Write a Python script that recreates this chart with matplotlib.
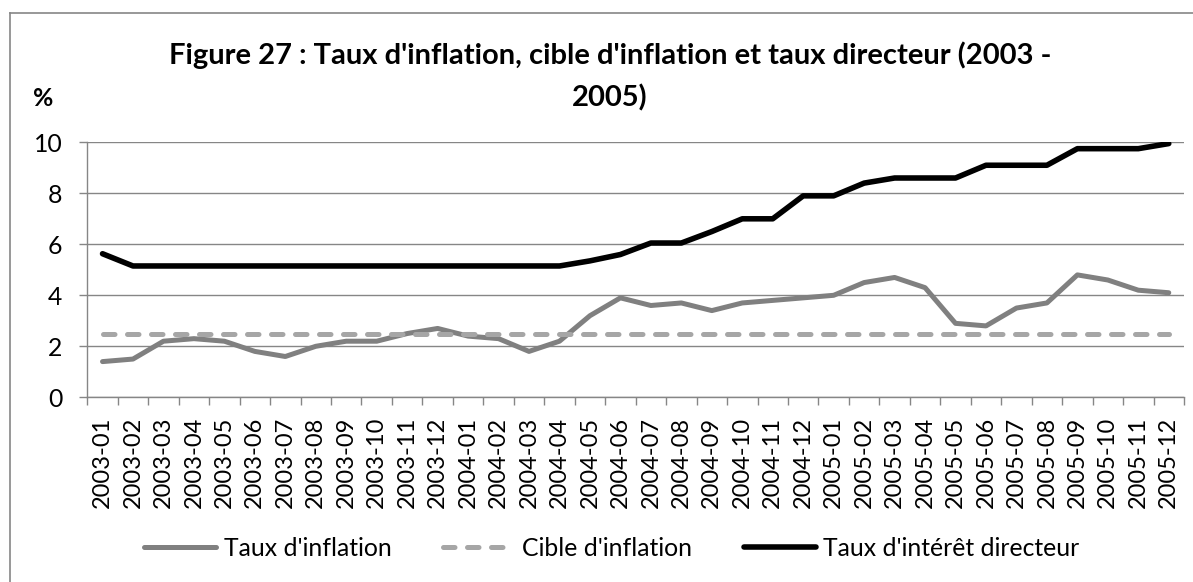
import matplotlib
matplotlib.use("Agg")
import matplotlib.pyplot as plt
from matplotlib.lines import Line2D
import numpy as np

plt.rcParams['font.family'] = ['Lato', 'DejaVu Sans']

months = [f"{y}-{m:02d}" for y in (2003, 2004, 2005) for m in range(1, 13)]

inflation = [1.4, 1.5, 2.2, 2.3, 2.2, 1.8, 1.6, 2.0, 2.2, 2.2, 2.5, 2.7,
             2.4, 2.3, 1.8, 2.2, 3.2, 3.9, 3.6, 3.7, 3.4, 3.7, 3.8, 3.9,
             4.0, 4.5, 4.7, 4.3, 2.9, 2.8, 3.5, 3.7, 4.8, 4.6, 4.2, 4.1]
cible = [2.5] * 36
directeur = [5.63, 5.15, 5.15, 5.15, 5.15, 5.15, 5.15, 5.15, 5.15, 5.15, 5.15, 5.15,
             5.15, 5.15, 5.15, 5.15, 5.35, 5.6, 6.05, 6.05, 6.5, 7.0, 7.0, 7.9,
             7.9, 8.4, 8.6, 8.6, 8.6, 9.1, 9.1, 9.1, 9.75, 9.75, 9.75, 9.95]

series_labels = ["Taux d'inflation", "Cible d'inflation", "Taux d'intérêt directeur"]
title_lines = ["Figure 27 : Taux d'inflation, cible d'inflation et taux directeur (2003 -", "2005)"]

W, H = 1193, 582
fig = plt.figure(figsize=(W / 100, H / 100), dpi=100)
fig.patch.set_facecolor('white')

left, right, bottom, top = 87.3, 1184, 397.3, 142.3
ax = fig.add_axes([left / W, 1 - bottom / H, (right - left) / W, (bottom - top) / H])

FS = 17.8
x = np.arange(len(months))
grid_c = '#868686'
ax.plot(x, inflation, color='#808080', lw=3.6, solid_joinstyle='round', solid_capstyle='round',
        label=series_labels[0], zorder=3)
ax.plot(x, cible, color='#A6A6A6', lw=3.6, dashes=(2.3, 2.5), dash_capstyle='round',
        label=series_labels[1], zorder=3)
ax.plot(x, directeur, color='black', lw=4.0, solid_joinstyle='round', solid_capstyle='round',
        label=series_labels[2], zorder=4)

ax.set_xlim(-0.5, len(months) - 0.5)
ax.set_ylim(0, 10)
ax.set_yticks(np.arange(0, 11, 2))
ax.set_xticks(np.arange(-0.5, len(months), 1.0))
ax.set_xticklabels([])
ax.set_xticks(x, minor=True)
ax.set_xticklabels(months, minor=True, rotation=90, fontsize=17, va='top', ha='center')
ax.tick_params(axis='x', which='minor', length=0, pad=14)
ax.tick_params(axis='x', which='major', length=6, width=1, color=grid_c, direction='out')
ax.tick_params(axis='y', length=6, width=1, color=grid_c, direction='out', pad=12, labelsize=FS)
ax.grid(axis='y', color=grid_c, lw=1)
ax.set_axisbelow(True)
for s in ('top', 'right'):
    ax.spines[s].set_visible(False)
for s in ('left', 'bottom'):
    ax.spines[s].set_color(grid_c)
    ax.spines[s].set_linewidth(1)

fig.text(610 / W, 1 - 55 / H, title_lines[0], ha='center', va='center', fontsize=21, fontweight='bold')
fig.text(610 / W, 1 - 98 / H, title_lines[1], ha='center', va='center', fontsize=21, fontweight='bold')
fig.text(43 / W, 1 - 98 / H, '%', ha='center', va='center', fontsize=FS, fontweight='bold')

leg = fig.legend(loc='center', bbox_to_anchor=(612 / W, 1 - 548 / H), ncol=3, frameon=False,
                 fontsize=FS, handlelength=2.9, handletextpad=0.3, columnspacing=2.1)

# chart border (left and top edges visible)
fig.add_artist(Line2D([10 / W, 10 / W], [0, 1 - 13 / H], transform=fig.transFigure, color=grid_c, lw=1.2))
fig.add_artist(Line2D([10 / W, 1], [1 - 13 / H, 1 - 13 / H], transform=fig.transFigure, color=grid_c, lw=1.2))

fig.savefig('out.png', dpi=100)
